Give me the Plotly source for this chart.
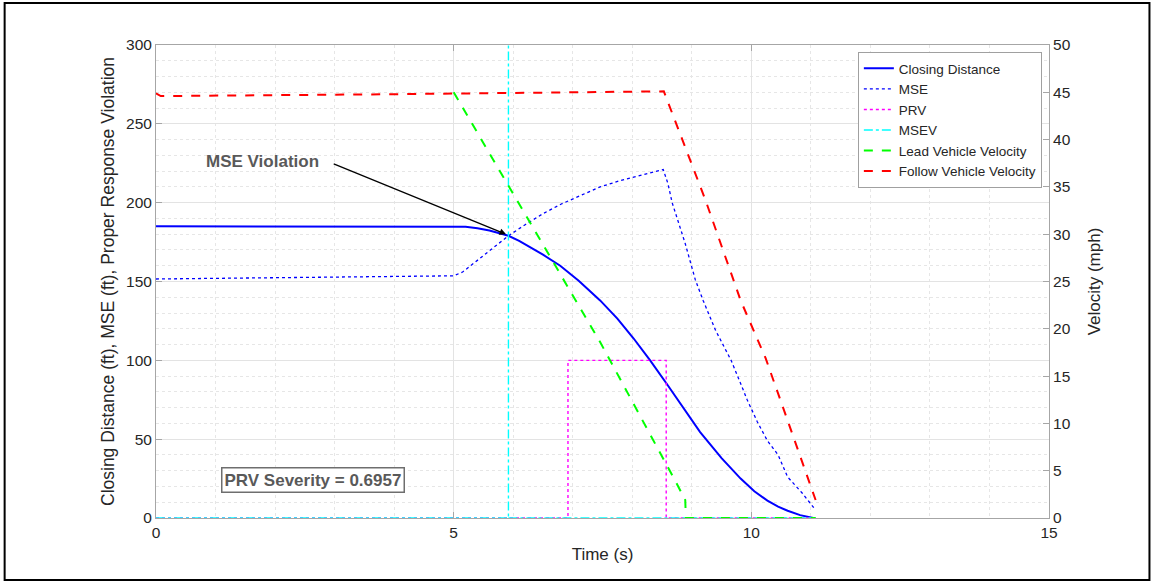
import plotly.graph_objects as go

# ---- data -------------------------------------------------------------
t_closing = [0, 5.0, 5.2, 5.4, 5.6, 5.8, 5.92, 6.1, 6.3, 6.5, 6.79, 7.1, 7.46,
             7.75, 8.02, 8.3, 8.59, 8.85, 9.14, 9.5, 9.82, 10.05, 10.27, 10.45,
             10.61, 10.82, 10.95, 11.04]
closing_distance = [185, 185, 184.7, 183.8, 182.3, 180.3, 179, 175.8, 171.5,
                    167, 160, 150.5, 138, 126.5, 114, 100, 84.5, 70, 54.5, 38,
                    25, 17, 11, 7.2, 4.6, 1.8, 0.7, 0]

t_mse = [0, 1, 2, 3, 4, 5.0, 5.15, 5.35, 5.6, 5.92, 6.2, 6.5, 6.8, 7.1, 7.46,
         7.8, 8.1, 8.35, 8.52, 8.6, 8.67, 8.78, 8.89, 9.06, 9.19, 9.4, 9.66,
         9.78, 9.93, 10.1, 10.27, 10.45, 10.61, 10.85, 11.08]
mse = [151.6, 152, 152.4, 152.8, 153.2, 153.6, 156, 162, 170, 179, 186, 193,
       199, 204, 210, 214, 217, 219.5, 221, 212, 200, 187, 174, 151, 138, 119,
       100, 89, 75, 61, 49, 40, 26, 16, 5]

t_prv = [0, 6.92, 6.92, 8.57, 8.57, 11.08]
prv = [0, 0, 100, 100, 0, 0]

# MSEV: zero baseline plus a single spike at the violation time
t_msev = [0, 5.92, 5.92, None, 5.92, 11.08]
msev = [0, 0, 300, None, 0, 0]

t_lead = [5.0, 7.46, 8.75, 8.89, 8.9, 11.08]
lead_velocity = [45, 18.6, 3.6, 1.9, 0, 0]

t_follow = [0, 0.08, 4.0, 8.53, 9.23, 9.82, 10.24, 11.08]
follow_velocity = [44.9, 44.6, 44.8, 45.1, 33.6, 23.0, 16.9, 1.9]

x_ticks = [0, 5, 10, 15]
left_ticks = [0, 50, 100, 150, 200, 250, 300]
right_ticks = [0, 5, 10, 15, 20, 25, 30, 35, 40, 45, 50]

# ---- figure -----------------------------------------------------------
FONT = "Liberation Sans, Arial, Helvetica, sans-serif"
AXIS_GRAY = "#a6a6a6"

fig = go.Figure()

fig.add_trace(go.Scatter(x=t_closing, y=closing_distance, name="Closing Distance",
                         mode="lines", line=dict(color="#0000ff", width=2)))
fig.add_trace(go.Scatter(x=t_mse, y=mse, name="MSE", mode="lines",
                         line=dict(color="#0000ff", width=1.3, dash="dot")))
fig.add_trace(go.Scatter(x=t_prv, y=prv, name="PRV", mode="lines",
                         line=dict(color="#ff00ff", width=1.4, dash="dot")))
fig.add_trace(go.Scatter(x=t_msev, y=msev, name="MSEV", mode="lines",
                         line=dict(color="#00ffff", width=1.4, dash="dashdot")))
fig.add_trace(go.Scatter(x=t_lead, y=lead_velocity, name="Lead Vehicle Velocity",
                         mode="lines", yaxis="y2",
                         line=dict(color="#00ff00", width=2, dash="dash")))
fig.add_trace(go.Scatter(x=t_follow, y=follow_velocity, name="Follow Vehicle Velocity",
                         mode="lines", yaxis="y2",
                         line=dict(color="#ff0000", width=2, dash="dash")))

# arrow pointing at the MSE violation point
fig.add_annotation(x=5.88, y=180, ax=2.96, ay=225, xref="x", yref="y",
                   axref="x", ayref="y", text="", showarrow=True,
                   arrowhead=2, arrowsize=1, arrowwidth=1.3, arrowcolor="black")
fig.add_annotation(x=1.79, y=226, xref="x", yref="y", text="<b>MSE Violation</b>",
                   showarrow=False, font=dict(family=FONT, size=17, color="#595959"))
fig.add_annotation(x=2.64, y=24.1, xref="x", yref="y", text="<b>PRV Severity = 0.6957</b>",
                   showarrow=False, font=dict(family=FONT, size=17, color="#595959"),
                   bordercolor="#6e6e6e", borderwidth=1.5, borderpad=2, bgcolor="white")

# outer frame around the whole figure
fig.add_shape(type="rect", xref="paper", yref="paper",
              x0=-0.1695, x1=1.1125, y0=-0.131, y1=1.089,
              line=dict(color="black", width=2), layer="above")

grid_major = "#e3e3e3"
grid_minor = "#e6e6e6"

fig.update_layout(
    width=1154, height=583,
    margin=dict(l=156, r=105, t=45, b=65),
    paper_bgcolor="white", plot_bgcolor="white",
    font=dict(family=FONT, size=15, color="#262626"),
    showlegend=True,
    legend=dict(x=0.992, y=0.985, xanchor="right", yanchor="top",
                bgcolor="white", bordercolor="#a0a0a0", borderwidth=1,
                font=dict(family=FONT, size=13.5, color="#262626"),
                tracegroupgap=0, itemwidth=30),
    xaxis=dict(range=[0, 15], tickvals=x_ticks, ticks="inside", ticklen=6,
               tickcolor=AXIS_GRAY, showline=True, linecolor=AXIS_GRAY, linewidth=1,
               mirror="ticks", showgrid=True, gridcolor=grid_major, gridwidth=1,
               zeroline=False,
               minor=dict(dtick=1, showgrid=True, gridcolor=grid_minor, griddash="dot", ticklen=0),
               title=dict(text="Time (s)", font=dict(size=17), standoff=8),
               tickfont=dict(size=15.5)),
    yaxis=dict(range=[0, 300], tickvals=left_ticks, ticks="inside", ticklen=6,
               tickcolor=AXIS_GRAY, showline=True, linecolor=AXIS_GRAY, linewidth=1,
               mirror=True, showgrid=True, gridcolor=grid_major, zeroline=False,
               minor=dict(dtick=10, showgrid=True, gridcolor=grid_minor, griddash="dot", ticklen=0),
               title=dict(text="Closing Distance (ft), MSE (ft), Proper Response Violation",
                          font=dict(size=17.5), standoff=6),
               tickfont=dict(size=15.5)),
    yaxis2=dict(range=[0, 50], tickvals=right_ticks, overlaying="y", side="right",
                ticks="inside", ticklen=6, tickcolor=AXIS_GRAY, showline=True,
                linecolor=AXIS_GRAY, linewidth=1, showgrid=False, zeroline=False,
                title=dict(text="Velocity (mph)", font=dict(size=17), standoff=18),
                tickfont=dict(size=15.5)),
)

fig.write_html("out.html")
